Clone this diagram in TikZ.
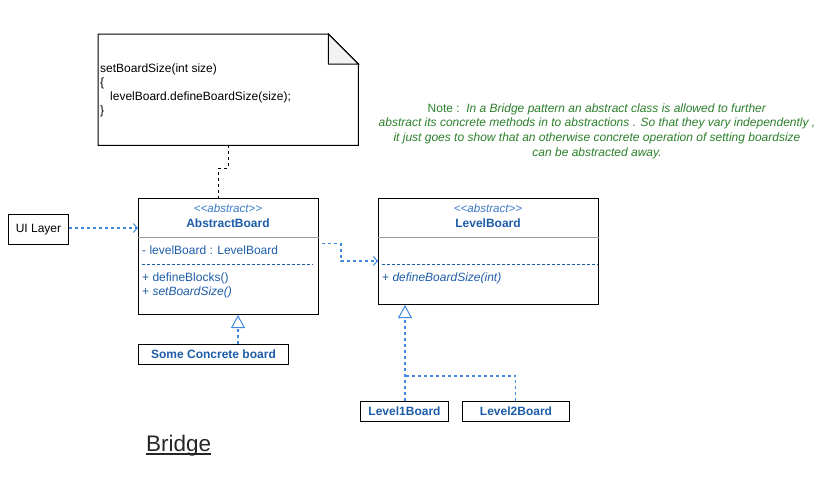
\documentclass[tikz,border=0pt]{standalone}
\usepackage{fontspec}
\setmainfont{Liberation Sans}
\usetikzlibrary{arrows.meta,calc}
\definecolor{txtblue}{HTML}{1D5CA8}
\definecolor{stereo}{HTML}{3A78C8}
\definecolor{lineblue}{HTML}{3F8AE0}
\definecolor{notegreen}{HTML}{2A7F2A}
\definecolor{foldgray}{HTML}{F2F2F2}
\definecolor{sepgray}{HTML}{9A9A9A}
\begin{document}
\begin{tikzpicture}[x=1pt,y=-1pt,
  box/.style={draw=black, line width=1pt, inner sep=0pt, anchor=north west},
  ftext/.style={font=\fontsize{12}{14}\selectfont},
  cls/.style={font=\fontsize{12}{14}\selectfont, text=txtblue, inner sep=0pt},
  clsname/.style={font=\fontsize{12}{14}\selectfont\bfseries, text=txtblue, inner sep=0pt},
  stereotype/.style={font=\fontsize{11.6}{13}\selectfont\itshape, text=stereo, inner sep=0pt},
  bluedash/.style={draw=lineblue, line width=1.1pt, dash pattern=on 3pt off 3pt},
  openarrow/.style={bluedash, -{Straight Barb[length=4pt,width=9pt,line width=1pt]}},
  realize/.style={bluedash, -{Triangle[open,length=13pt,width=14pt,fill=white,line width=1pt]}},
  sepline/.style={draw=sepgray, line width=1pt}
]
\useasboundingbox (0,0) rectangle (830,482);

% ---------- note with folded corner ----------
\node[anchor=north west, minimum width=260pt, minimum height=111pt, inner sep=0pt] (note) at (98,34) {};
\draw[line width=1pt, fill=white] (note.north west) -- ($(note.north east)+(-30,0)$) -- ($(note.north east)+(0,30)$) -- (note.south east) -- (note.south west) -- cycle;
\draw[line width=1pt, fill=foldgray] ($(note.north east)+(-30,0)$) -- ($(note.north east)+(-30,30)$) -- ($(note.north east)+(0,30)$) -- cycle;
\node[ftext, anchor=west, inner sep=0pt] (n1) at (100,69) {setBoardSize(int size)};
\node[ftext, anchor=west, inner sep=0pt] (n2) at (100,83) {\{};
\node[ftext, anchor=west, inner sep=0pt] (n3) at (110,97) {levelBoard.defineBoardSize(size);};
\node[ftext, anchor=west, inner sep=0pt] (n4) at (100,111) {\}};

% ---------- green note text ----------
\node[font=\fontsize{12}{14.6}\selectfont, text=notegreen, align=center, inner sep=0pt] (green) at (597,131)
  {Note :\ \ \textit{In a Bridge pattern an abstract class is allowed to further}\\
   \textit{abstract its concrete methods in to abstractions . So that they vary independently ,}\\
   \textit{it just goes to show that an otherwise concrete operation of setting boardsize}\\
   \textit{can be abstracted away.}};

% ---------- AbstractBoard ----------
\node[box, minimum width=180pt, minimum height=116pt] (ab) at (138,198) {};
\draw[sepline] ($(ab.north west)+(0,39)$) -- ($(ab.north east)+(0,39)$);
\draw[draw=txtblue, line width=0.8pt, dash pattern=on 3pt off 2pt] (142,264) -- (313,264);
\node[stereotype] (abst) at (228,208) {<\kern0pt<abstract>\kern0pt>};
\node[clsname] (abname) at (228,223) {AbstractBoard};
\node[cls, anchor=west] (ab1) at (142,250) {- levelBoard : LevelBoard};
\node[cls, anchor=west] (ab2) at (142,278) {+ defineBlocks()};
\node[cls, anchor=west] (ab3) at (142,292) {+ \textit{setBoardSize()}};

% ---------- LevelBoard ----------
\node[box, minimum width=220pt, minimum height=106pt] (lb) at (378,198) {};
\draw[sepline] ($(lb.north west)+(0,39)$) -- ($(lb.north east)+(0,39)$);
\draw[draw=txtblue, line width=0.8pt, dash pattern=on 3pt off 2pt] (382,264) -- (598,264);
\node[stereotype] (lbst) at (488,208) {<\kern0pt<abstract>\kern0pt>};
\node[clsname] (lbname) at (488,223) {LevelBoard};
\node[cls, anchor=west] (lb1) at (382,278) {+ \textit{defineBoardSize(int)}};

% ---------- other boxes ----------
\node[box, minimum width=60pt, minimum height=30pt] (ui) at (8,214) {};
\node[ftext, inner sep=0pt] (uitext) at (ui.center) {UI Layer};
\node[box, minimum width=150pt, minimum height=20pt] (scb) at (138,344) {};
\node[clsname] (scbt) at (scb.center) {Some Concrete board};
\node[box, minimum width=88pt, minimum height=20pt] (l1) at (360,401) {};
\node[clsname] (l1t) at (l1.center) {Level1Board};
\node[box, minimum width=107pt, minimum height=20pt] (l2) at (462,401) {};
\node[clsname] (l2t) at (l2.center) {Level2Board};

% ---------- connectors ----------
\draw[line width=1pt, dash pattern=on 3pt off 3pt] (note.south) -- ++(0,23) -| ($(ab.north)+(-10,0)$);
\draw[openarrow] (ui.east |- 0,228) -- (ab.west |- 0,228);
\draw[openarrow] ($(ab.east)+(3,-13)$) -- ++(19,0) |- (lb.west |- 0,261);
\coordinate (scbtop) at (238,344);
\draw[realize] (scbtop) -- (scbtop |- ab.south);
\coordinate (l1top) at (405,401);
\draw[realize] (l1top) -- (l1top |- lb.south);
\draw[bluedash] ($(l2.north)+(-0.5,0)$) |- (405,376);

% ---------- title ----------
\node[font=\fontsize{22.5}{26}\selectfont, text=black!85, inner sep=0pt, anchor=base west] (title) at (146,451) {Bridge};
\draw[line width=1.6pt, draw=black!85] ($(title.base west)+(0,3.2)$) -- ($(title.base east)+(0,3.2)$);
\end{tikzpicture}
\end{document}
